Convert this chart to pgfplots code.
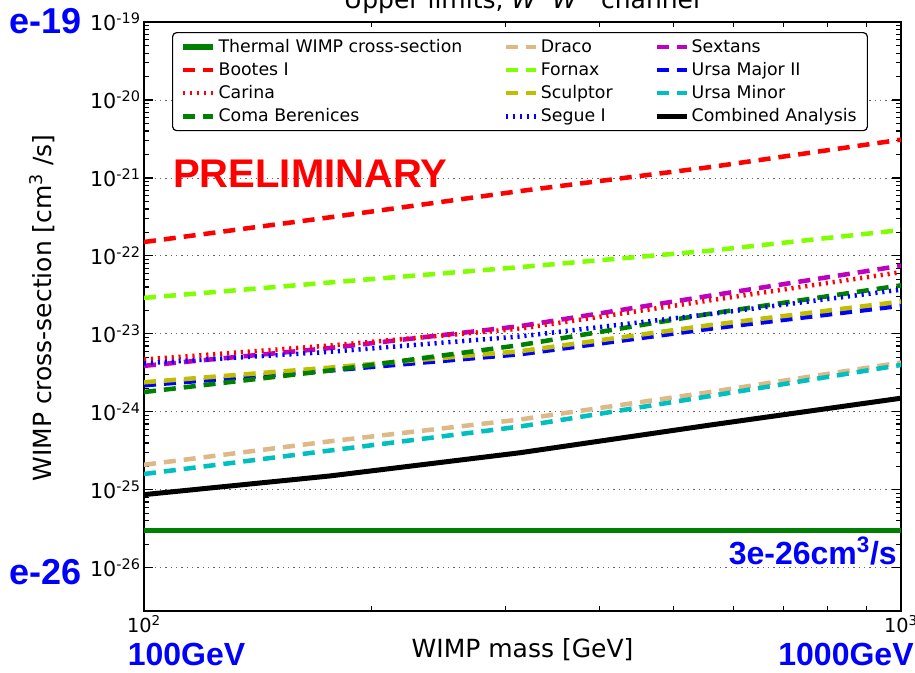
\documentclass[border=0pt]{standalone}
\usepackage{pgfplots}
\pgfplotsset{compat=1.18}
\usepackage{fontspec}
\setmainfont{DejaVu Sans}
\newfontfamily\arialfont{Liberation Sans}
\definecolor{mgreen}{rgb}{0,0.5,0}
\definecolor{burly}{RGB}{222,184,135}
\definecolor{lgreen}{RGB}{127,255,0}
\definecolor{olivey}{rgb}{0.75,0.75,0}
\definecolor{mmag}{rgb}{0.75,0,0.75}
\definecolor{mcyan}{rgb}{0,0.75,0.75}
\tikzset{
  dsh/.style={line width=3.4pt, dash pattern=on 9pt off 6pt},
  dtt/.style={line width=3.4pt, dash pattern=on 1.6pt off 3.6pt},
}
\begin{document}
\begin{tikzpicture}
\begin{axis}[
  scale only axis, width=567.75pt, height=441.75pt,
  xmode=log, ymode=log,
  xmin=100, xmax=1000, ymin=2.8e-27, ymax=1e-19,
  xtick={100,1000},
  xticklabels={10\textsuperscript{2},10\textsuperscript{3}},
  ytick={1e-26,1e-25,1e-24,1e-23,1e-22,1e-21,1e-20,1e-19},
  yticklabels={10\textsuperscript{-26},10\textsuperscript{-25},10\textsuperscript{-24},10\textsuperscript{-23},10\textsuperscript{-22},10\textsuperscript{-21},10\textsuperscript{-20},10\textsuperscript{-19}},
  tick label style={font=\fontsize{15.5pt}{18pt}\selectfont},
  xticklabel style={font=\fontsize{14.5pt}{17pt}\selectfont},
  yticklabel style={xshift=1pt},
  tick align=inside, major tick length=7pt, minor tick length=4pt,
  every tick/.style={black, line width=0.8pt},
  axis line style={line width=1.2pt},
  ymajorgrids,
  major grid style={black!60, line width=0.7pt, dash pattern=on 1pt off 3pt},
  xlabel={WIMP mass [GeV]},
  ylabel={WIMP cross-section [cm\textsuperscript{3} /s]},
  xlabel style={at={(axis description cs:0.5,0)}, anchor=center, yshift=-29.25pt, font=\fontsize{18.75pt}{22pt}\selectfont},
  every axis y label/.style={at={(axis description cs:0,0.5)}, xshift=-76.5pt, yshift=6.4pt, rotate=90, anchor=center, font=\fontsize{18.75pt}{22pt}\selectfont},
  legend columns=3,
  legend cell align=left,
  legend style={at={(axis description cs:0.037,0.983)}, anchor=north west,
    draw=black, line width=0.9pt, rounded corners=3pt, fill=white,
    font=\fontsize{13pt}{15.5pt}\selectfont,
    row sep=2pt, inner xsep=6pt, inner ysep=3pt,
    /tikz/every even column/.append style={column sep=29pt}},
  legend image code/.code={\draw[#1, rounded corners=0pt] (0pt,0pt) -- (22.5pt,0pt);},
]
% row 1
\addplot[mgreen, line width=4pt] coordinates {(100,3e-26) (1000,3e-26)};
\addlegendentry{Thermal WIMP cross-section}
\addplot[burly, dsh] coordinates {(100,2.1e-25) (176,4.2e-25) (314,8.0e-25) (560,1.8e-24) (1000,4.3e-24)};
\addlegendentry{Draco}
\addplot[mmag, dsh] coordinates {(100,3.9e-24) (176,6.6e-24) (314,1.26e-23) (560,3.1e-23) (1000,7.5e-23)};
\addlegendentry{Sextans}
% row 2
\addplot[red, dsh] coordinates {(100,1.51e-22) (176,3.13e-22) (314,6.8e-22) (560,1.38e-21) (1000,3.1e-21)};
\addlegendentry{Bootes I}
\addplot[lgreen, dsh] coordinates {(100,2.9e-23) (176,4.57e-23) (314,7.2e-23) (560,1.17e-22) (1000,2.15e-22)};
\addlegendentry{Fornax}
\addplot[blue, dsh] coordinates {(100,2.2e-24) (176,3.4e-24) (314,5.5e-24) (560,1.17e-23) (1000,2.3e-23)};
\addlegendentry{Ursa Major II}
% row 3
\addplot[red, dtt] coordinates {(100,4.7e-24) (176,7.1e-24) (314,1.17e-23) (560,2.7e-23) (1000,6.2e-23)};
\addlegendentry{Carina}
\addplot[olivey, dsh] coordinates {(100,2.4e-24) (176,3.7e-24) (314,6.0e-24) (560,1.3e-23) (1000,2.6e-23)};
\addlegendentry{Sculptor}
\addplot[mcyan, dsh] coordinates {(100,1.6e-25) (176,3.2e-25) (314,6.5e-25) (560,1.6e-24) (1000,4.0e-24)};
\addlegendentry{Ursa Minor}
% row 4
\addplot[mgreen, dsh] coordinates {(100,1.8e-24) (176,3.4e-24) (314,7.2e-24) (560,1.82e-23) (1000,4.2e-23)};
\addlegendentry{Coma Berenices}
\addplot[blue, dtt] coordinates {(100,4.2e-24) (176,5.9e-24) (314,9.3e-24) (560,1.8e-23) (1000,3.7e-23)};
\addlegendentry{Segue I}
\addplot[black, line width=3.75pt] coordinates {(100,8.7e-26) (176,1.51e-25) (314,3.0e-25) (560,6.8e-25) (1000,1.5e-24)};
\addlegendentry{Combined Analysis}
\end{axis}
% annotations
\node[anchor=base, font=\fontsize{18.75pt}{22pt}\selectfont, inner sep=0pt] at (283.5pt,451.5pt)
  {Upper limits, \textit{W}\textsuperscript{+}\textit{W}\textsuperscript{−} channel};
\node[anchor=base west, inner sep=0pt, text=red, font=\arialfont\bfseries\fontsize{30pt}{34pt}\selectfont] at (21.75pt,317.25pt) {PRELIMINARY};
\node[anchor=base east, inner sep=0pt, text=blue, font=\arialfont\bfseries\fontsize{27pt}{30pt}\selectfont] at (-46.5pt,432.75pt) {e-19};
\node[anchor=base east, inner sep=0pt, text=blue, font=\arialfont\bfseries\fontsize{27pt}{30pt}\selectfont] at (-46.5pt,19.5pt) {e-26};
\node[anchor=base, inner sep=0pt, text=blue, font=\arialfont\bfseries\fontsize{24pt}{28pt}\selectfont] at (31.9pt,-41pt) {100GeV};
\node[anchor=base, inner sep=0pt, text=blue, font=\arialfont\bfseries\fontsize{24pt}{28pt}\selectfont] at (526.5pt,-41pt) {1000GeV};
\node[anchor=base east, inner sep=0pt, text=blue, font=\arialfont\bfseries\fontsize{24pt}{28pt}\selectfont] at (564.75pt,34.5pt) {3e-26cm\textsuperscript{3}/s};
\pgfresetboundingbox
\useasboundingbox (-108pt,-46.5pt) rectangle (578.25pt,458.25pt);
\end{tikzpicture}
\end{document}
